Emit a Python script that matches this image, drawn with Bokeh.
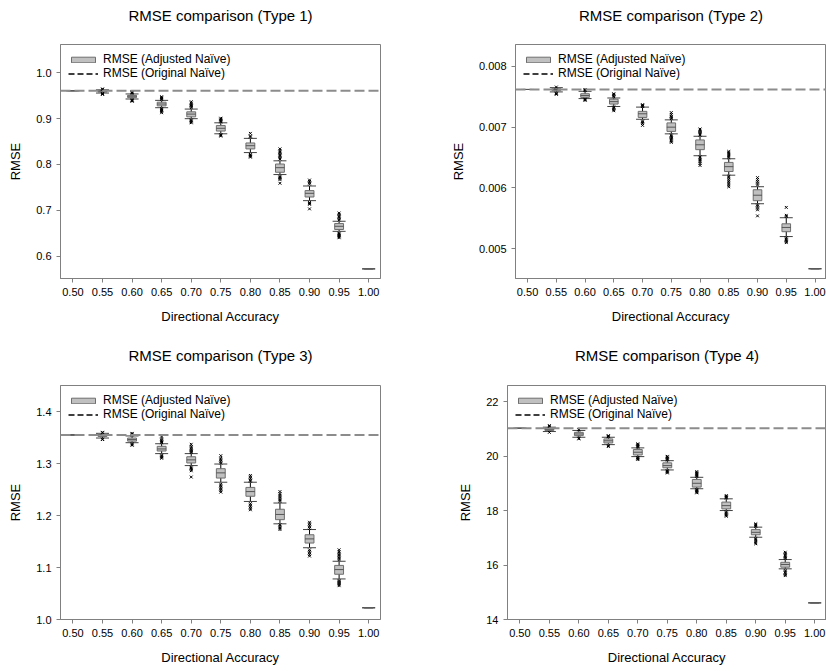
from bokeh.plotting import figure
from bokeh.layouts import column, row
from bokeh.models import (Range1d, FixedTicker, PrintfTickFormatter, Span,
                          Legend, LegendItem, ColumnDataSource, Title)
from bokeh.embed import file_html
from bokeh.resources import INLINE

# ---------------- data ----------------
acc = [0.50, 0.55, 0.60, 0.65, 0.70, 0.75, 0.80, 0.85, 0.90, 0.95, 1.00]

# Type 1
t1_med = [0.961, 0.960, 0.949, 0.932, 0.910, 0.879, 0.841, 0.793, 0.737, 0.665, 0.572]
t1_q1 = [0.961, 0.958, 0.946, 0.928, 0.904, 0.873, 0.834, 0.783, 0.729, 0.658, 0.572]
t1_q3 = [0.961, 0.962, 0.951, 0.936, 0.915, 0.885, 0.847, 0.801, 0.743, 0.671, 0.572]
t1_lo = [0.961, 0.956, 0.943, 0.924, 0.900, 0.867, 0.826, 0.778, 0.721, 0.654, 0.572]
t1_hi = [0.961, 0.963, 0.954, 0.940, 0.921, 0.891, 0.857, 0.808, 0.753, 0.676, 0.572]
t1_out = [
    [],
    [0.953, 0.954, 0.955, 0.964, 0.965],
    [0.938, 0.939, 0.940, 0.941, 0.956, 0.957, 0.958, 0.959],
    [0.913, 0.916, 0.918, 0.920, 0.922, 0.942, 0.944, 0.946, 0.948],
    [0.891, 0.893, 0.895, 0.897, 0.924, 0.927, 0.929, 0.931, 0.934, 0.937],
    [0.862, 0.864, 0.865, 0.893, 0.895, 0.897, 0.899, 0.901],
    [0.816, 0.818, 0.820, 0.822, 0.860, 0.862, 0.868],
    [0.759, 0.767, 0.770, 0.772, 0.774, 0.812, 0.815, 0.818, 0.821, 0.824, 0.827, 0.830, 0.834],
    [0.703, 0.713, 0.715, 0.717, 0.757, 0.760, 0.763, 0.766],
    [0.640, 0.642, 0.644, 0.646, 0.648, 0.650, 0.679, 0.682, 0.685, 0.688, 0.691, 0.694],
    [],
]
t1_naive = 0.961
t1_yrange = (0.551, 1.062)
t1_yticks = [0.6, 0.7, 0.8, 0.9, 1.0]

# Type 2
t2_med = [0.00762, 0.00762, 0.00752, 0.00742, 0.00722, 0.00700, 0.00671, 0.00635, 0.00588, 0.00535, 0.00467]
t2_q1 = [0.00762, 0.00760, 0.00749, 0.00738, 0.00716, 0.00693, 0.00663, 0.00627, 0.00579, 0.00528, 0.00467]
t2_q3 = [0.00762, 0.00764, 0.00755, 0.00746, 0.00726, 0.00707, 0.00679, 0.00642, 0.00597, 0.00541, 0.00467]
t2_lo = [0.00762, 0.00758, 0.00747, 0.00734, 0.00713, 0.00689, 0.00653, 0.00621, 0.00574, 0.00520, 0.00467]
t2_hi = [0.00762, 0.00765, 0.00759, 0.00748, 0.00733, 0.00712, 0.00685, 0.00648, 0.00602, 0.00551, 0.00467]
t2_out = [
    [],
    [0.00754, 0.00755, 0.00756, 0.00766],
    [0.00744, 0.00745, 0.00746, 0.00760, 0.00761, 0.00762],
    [0.00727, 0.00729, 0.00731, 0.00733, 0.00750, 0.00752, 0.00754, 0.00755],
    [0.00703, 0.00706, 0.00708, 0.00710, 0.00734, 0.00735, 0.00736, 0.00737],
    [0.00675, 0.00677, 0.00679, 0.00681, 0.00683, 0.00685, 0.00687, 0.00714, 0.00716, 0.00718, 0.00721, 0.00724],
    [0.00637, 0.00640, 0.00643, 0.00646, 0.00649, 0.00651, 0.00687, 0.00689, 0.00691, 0.00693, 0.00695, 0.00697],
    [0.00602, 0.00605, 0.00608, 0.00611, 0.00614, 0.00617, 0.00619, 0.00650, 0.00652, 0.00654, 0.00656, 0.00658, 0.00660],
    [0.00554, 0.00564, 0.00567, 0.00570, 0.00572, 0.00605, 0.00608, 0.00611, 0.00614, 0.00617],
    [0.00510, 0.00512, 0.00514, 0.00516, 0.00518, 0.00553, 0.00555, 0.00568],
    [],
]
t2_naive = 0.00762
t2_yrange = (0.00451, 0.00836)
t2_yticks = [0.005, 0.006, 0.007, 0.008]

# Type 3
t3_med = [1.355, 1.355, 1.346, 1.328, 1.307, 1.282, 1.246, 1.202, 1.155, 1.096, 1.0225]
t3_q1 = [1.355, 1.352, 1.343, 1.324, 1.301, 1.272, 1.237, 1.192, 1.147, 1.087, 1.0225]
t3_q3 = [1.355, 1.357, 1.349, 1.333, 1.313, 1.290, 1.254, 1.212, 1.163, 1.104, 1.0225]
t3_lo = [1.355, 1.349, 1.340, 1.319, 1.296, 1.264, 1.227, 1.184, 1.138, 1.078, 1.0225]
t3_hi = [1.355, 1.358, 1.353, 1.338, 1.319, 1.299, 1.264, 1.224, 1.173, 1.112, 1.0225]
t3_out = [
    [],
    [1.346, 1.347, 1.359, 1.360],
    [1.335, 1.336, 1.338, 1.355, 1.357, 1.358],
    [1.310, 1.312, 1.314, 1.316, 1.340, 1.342, 1.344, 1.347, 1.351],
    [1.274, 1.286, 1.289, 1.291, 1.293, 1.321, 1.323, 1.325, 1.327, 1.330, 1.333, 1.337],
    [1.245, 1.248, 1.251, 1.254, 1.257, 1.260, 1.301, 1.304, 1.307, 1.310, 1.315],
    [1.211, 1.214, 1.217, 1.220, 1.223, 1.266, 1.268, 1.271, 1.274, 1.277],
    [1.173, 1.176, 1.179, 1.182, 1.227, 1.230, 1.233, 1.236, 1.239, 1.242, 1.246],
    [1.122, 1.125, 1.128, 1.131, 1.134, 1.175, 1.178, 1.181, 1.184, 1.187],
    [1.065, 1.067, 1.069, 1.071, 1.073, 1.075, 1.115, 1.118, 1.121, 1.124, 1.127, 1.130, 1.134],
    [],
]
t3_naive = 1.355
t3_yrange = (1.0, 1.45)
t3_yticks = [1.0, 1.1, 1.2, 1.3, 1.4]

# Type 4
t4_med = [21.02, 20.98, 20.81, 20.56, 20.14, 19.65, 19.00, 18.18, 17.20, 16.02, 14.61]
t4_q1 = [21.02, 20.94, 20.75, 20.48, 20.04, 19.57, 18.86, 18.06, 17.11, 15.92, 14.61]
t4_q3 = [21.02, 21.03, 20.87, 20.63, 20.24, 19.75, 19.14, 18.31, 17.30, 16.10, 14.61]
t4_lo = [21.02, 20.90, 20.69, 20.42, 19.98, 19.49, 18.80, 18.00, 17.02, 15.86, 14.61]
t4_hi = [21.02, 21.06, 20.94, 20.69, 20.30, 19.83, 19.22, 18.43, 17.39, 16.20, 14.61]
t4_out = [
    [],
    [20.87, 21.09, 21.12],
    [20.63, 20.66, 20.96, 20.97],
    [20.35, 20.38, 20.71, 20.73, 20.75],
    [19.87, 19.90, 19.93, 19.95, 20.33, 20.36, 20.39, 20.42, 20.45],
    [19.38, 19.41, 19.44, 19.46, 19.86, 19.89, 19.92, 19.96, 19.99],
    [18.65, 18.68, 18.71, 18.74, 18.77, 19.25, 19.28, 19.31, 19.35, 19.39, 19.43],
    [17.79, 17.83, 17.87, 17.91, 17.95, 18.46, 18.49, 18.52, 18.55],
    [16.78, 16.83, 16.88, 16.93, 16.97, 17.42, 17.45, 17.48, 17.51],
    [15.61, 15.65, 15.70, 15.75, 15.80, 16.24, 16.28, 16.32, 16.37, 16.42, 16.47],
    [],
]
t4_naive = 21.02
t4_yrange = (14.0, 22.59)
t4_yticks = [14, 16, 18, 20, 22]

x_range = (0.479, 1.02)
FONT = "Liberation Sans"


def make_panel(title, med, q1, q3, lo, hi, outs, naive, yrange, yticks, yfmt,
               width, height, b_left, b_right, b_top, b_bottom, title_standoff):
    p = figure(width=width, height=height, output_backend="svg", toolbar_location=None,
               x_range=Range1d(*x_range), y_range=Range1d(*yrange),
               min_border_left=b_left, min_border_right=b_right,
               min_border_top=b_top, min_border_bottom=b_bottom)
    # spacer between title and frame, then the title itself
    p.add_layout(Title(text=" ", text_font_size="2px", standoff=13), "above")
    p.add_layout(Title(text=title, align="center", text_font=FONT, text_font_size="15px",
                       text_font_style="normal", text_color="black",
                       standoff=title_standoff), "above")

    p.xgrid.visible = False
    p.ygrid.visible = False
    p.outline_line_color = "#808080"
    p.background_fill_color = "white"
    p.border_fill_color = "white"

    for ax in (p.xaxis[0], p.yaxis[0]):
        ax.axis_line_color = "#808080"
        ax.major_tick_line_color = "#808080"
        ax.major_tick_out = 4
        ax.major_tick_in = 0
        ax.minor_tick_out = 0
        ax.minor_tick_in = 0
        ax.major_label_text_font = FONT
        ax.major_label_text_font_size = "11px"
        ax.major_label_text_color = "black"
        ax.axis_label_text_font = FONT
        ax.axis_label_text_font_size = "13px"
        ax.axis_label_text_font_style = "normal"
        ax.axis_label_text_color = "black"
        ax.axis_label_standoff = 10
        ax.major_label_standoff = 5

    p.xaxis.ticker = FixedTicker(ticks=acc)
    p.xaxis.formatter = PrintfTickFormatter(format="%.2f")
    p.xaxis.axis_label = "Directional Accuracy"
    p.yaxis.ticker = FixedTicker(ticks=yticks)
    p.yaxis.formatter = PrintfTickFormatter(format=yfmt)
    p.yaxis.axis_label = "RMSE"

    src = ColumnDataSource(dict(x=acc, med=med, q1=q1, q3=q3, lo=lo, hi=hi))

    # original naive reference line
    p.add_layout(Span(location=naive, dimension="width", line_color="#8c8c8c",
                      line_width=2, line_dash="10 4"))

    # whiskers
    p.segment(x0="x", y0="lo", x1="x", y1="hi", source=src, line_color="black", line_width=1)
    # caps
    p.scatter(x="x", y="lo", source=src, marker="dash", size=13, line_color="#404040", line_width=1)
    p.scatter(x="x", y="hi", source=src, marker="dash", size=13, line_color="#404040", line_width=1)
    # boxes
    box = p.vbar(x="x", width=0.015, bottom="q1", top="q3", source=src,
                 fill_color="#c0c0c0", line_color="#6e6e6e", line_width=1)
    # medians
    p.scatter(x="x", y="med", source=src, marker="dash", size=9, line_color="#555555", line_width=1)

    # outliers
    ox, oy = [], []
    for xv, vals in zip(acc, outs):
        for v in vals:
            ox.append(xv)
            oy.append(v)
    p.scatter(x=ox, y=oy, marker="x", size=4, line_color="black", line_width=1)

    nan = float("nan")
    dummy = p.line(x=[nan, nan], y=[nan, nan], line_color="black", line_width=1.5, line_dash="6 3")

    legend = Legend(items=[LegendItem(label="RMSE (Adjusted Naïve)", renderers=[box]),
                           LegendItem(label="RMSE (Original Naïve)", renderers=[dummy])],
                    location="top_left")
    legend.background_fill_alpha = 0
    legend.border_line_alpha = 0
    legend.margin = 8
    legend.padding = 0
    legend.spacing = 0
    legend.glyph_width = 30
    legend.glyph_height = 7
    legend.label_height = 12
    legend.label_standoff = 5
    legend.label_text_font = FONT
    legend.label_text_font_size = "12px"
    legend.label_text_color = "black"
    p.add_layout(legend)
    return p


p1 = make_panel("RMSE comparison (Type 1)", t1_med, t1_q1, t1_q3, t1_lo, t1_hi, t1_out,
                t1_naive, t1_yrange, t1_yticks, "%.1f", 447, 335, 60, 67, 44, 57, 7)
p2 = make_panel("RMSE comparison (Type 2)", t2_med, t2_q1, t2_q3, t2_lo, t2_hi, t2_out,
                t2_naive, t2_yrange, t2_yticks, "%.3f", 379, 335, 60, 0, 44, 57, 7)
p3 = make_panel("RMSE comparison (Type 3)", t3_med, t3_q1, t3_q3, t3_lo, t3_hi, t3_out,
                t3_naive, t3_yrange, t3_yticks, "%.1f", 447, 336, 60, 67, 50, 52, 10)
p4 = make_panel("RMSE comparison (Type 4)", t4_med, t4_q1, t4_q3, t4_lo, t4_hi, t4_out,
                t4_naive, t4_yrange, t4_yticks, "%d", 379, 336, 60, 0, 50, 52, 10)

layout = column(row(p1, p2), row(p3, p4))
open("out.html", "w").write(file_html(layout, INLINE))
